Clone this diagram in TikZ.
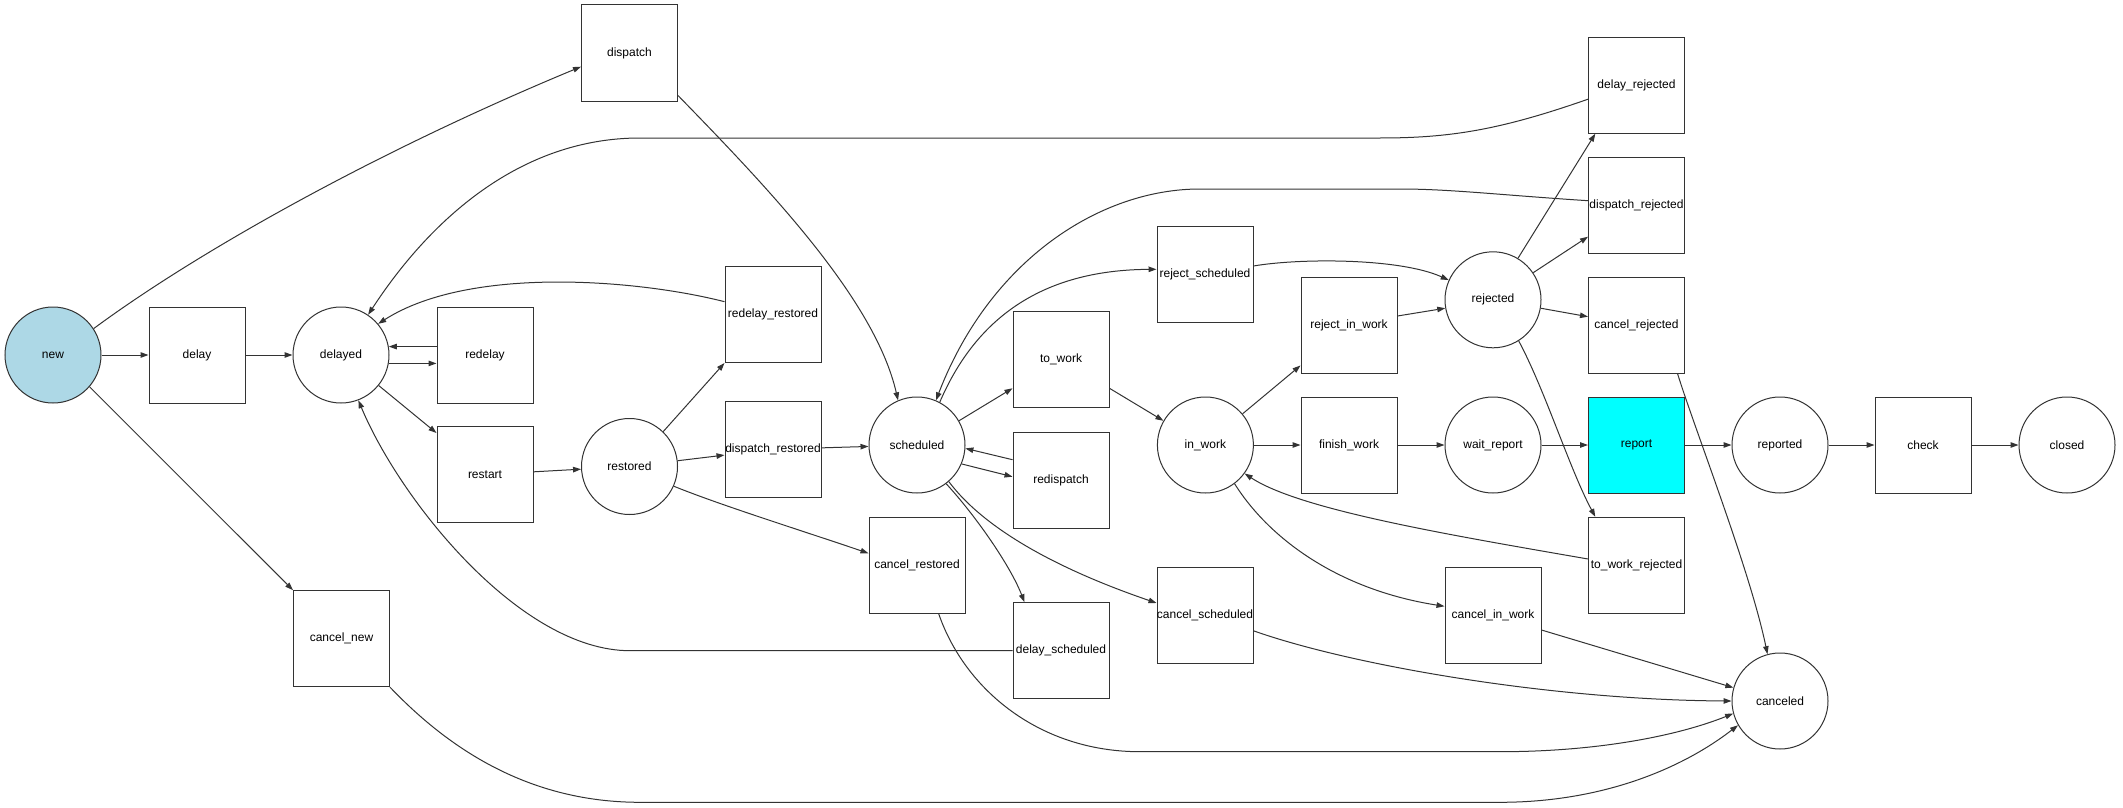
\documentclass[tikz,border=0pt]{standalone}
\usepackage{fontspec}
\setmainfont{Liberation Sans}
\usetikzlibrary{arrows.meta}
\definecolor{ln}{RGB}{51,51,51}
\definecolor{newfill}{RGB}{173,216,230}
\definecolor{reportfill}{RGB}{0,255,255}
\newcommand\zl[1]{\makebox[0pt]{#1}}
\begin{document}
\begin{tikzpicture}[x=1pt,y=-1pt,
  every node/.style={font=\fontsize{12}{14}\selectfont, inner sep=0pt},
  stnode/.style={circle, draw=ln, line width=1pt, minimum size=96pt},
  trnode/.style={rectangle, draw=ln, line width=1pt, minimum width=96pt, minimum height=96pt},
  arr/.style={draw=ln, line width=1pt, -{Triangle[length=8pt,width=5.5pt]}},
]
\useasboundingbox (0,0) rectangle (2123,808);
% states
\node[stnode, fill=newfill] (new) at (53,355) {\zl{new}};
\node[stnode] (delayed) at (341,355) {\zl{delayed}};
\node[stnode] (restored) at (629.5,466.5) {\zl{restored}};
\node[stnode] (scheduled) at (917,445) {\zl{scheduled}};
\node[stnode] (inwork) at (1205.4,445) {\zl{in\_work}};
\node[stnode] (rejected) at (1493,299.8) {\zl{rejected}};
\node[stnode] (waitreport) at (1493,445) {\zl{wait\_report}};
\node[stnode] (reported) at (1780,445) {\zl{reported}};
\node[stnode] (canceled) at (1780,701) {\zl{canceled}};
\node[stnode] (closed) at (2067,445) {\zl{closed}};
% transitions
\node[trnode] (delay) at (197,355) {\zl{delay}};
\node[trnode] (redelay) at (485,355) {\zl{redelay}};
\node[trnode] (dispatch) at (629.5,53) {\zl{dispatch}};
\node[trnode] (restart) at (485,474.5) {\zl{restart}};
\node[trnode] (cancelnew) at (341.5,638.7) {\zl{cancel\_new}};
\node[trnode] (redelayrestored) at (773,314.5) {\zl{redelay\_restored}};
\node[trnode] (dispatchrestored) at (773,449.3) {\zl{dispatch\_restored}};
\node[trnode] (cancelrestored) at (917,565.3) {\zl{cancel\_restored}};
\node[trnode] (towork) at (1061,359.5) {\zl{to\_work}};
\node[trnode] (redispatch) at (1061,480) {\zl{redispatch}};
\node[trnode] (delayscheduled) at (1061,650.7) {\zl{delay\_scheduled}};
\node[trnode] (rejectscheduled) at (1205,274.7) {\zl{reject\_scheduled}};
\node[trnode] (cancelscheduled) at (1205,615.8) {\zl{cancel\_scheduled}};
\node[trnode] (rejectinwork) at (1349,325) {\zl{reject\_in\_work}};
\node[trnode] (finishwork) at (1349,445) {\zl{finish\_work}};
\node[trnode] (cancelinwork) at (1493,615.8) {\zl{cancel\_in\_work}};
\node[trnode] (delayrejected) at (1636.5,85.2) {\zl{delay\_rejected}};
\node[trnode] (dispatchrejected) at (1636.5,205) {\zl{dispatch\_rejected}};
\node[trnode] (cancelrejected) at (1636.5,325) {\zl{cancel\_rejected}};
\node[trnode, fill=reportfill] (report) at (1636.5,445) {\zl{report}};
\node[trnode] (toworkrejected) at (1636.5,565.3) {\zl{to\_work\_rejected}};
\node[trnode] (check) at (1923,445) {\zl{check}};
% edges
\draw[arr] (new) -- (delay);
\draw[arr] (delay) -- (delayed);
\draw[arr] (new.33) .. controls (200,250) and (380,150) .. ([yshift=-13.7pt]dispatch.west);
\draw[arr] (new.-41) -- (cancelnew.north west);
\draw[arr] ([yshift=6pt]dispatch.south east) .. controls (770,190) and (875,300) .. (scheduled.113);
\draw[arr] ([yshift=-14pt]delayrejected.west) .. controls (1500,130) and (1450,138) .. (1380,138) -- (640,138) .. controls (520,138) and (430,220) .. (delayed.56);
\draw[arr] (delayed.-10) -- (delayed.-10 -| redelay.west);
\draw[arr] (delayed.10 -| redelay.west) -- (delayed.10);
\draw[arr] ([yshift=12.8pt]redelayrestored.west) .. controls (640,280) and (470,265) .. (delayed.40);
\draw[arr] (delayed.-39) -- ([yshift=-7pt]restart.north west);
\draw[arr] (restart) -- (restored);
\draw[arr] (restored.46) -- (redelayrestored.south west);
\draw[arr] (restored) -- (dispatchrestored);
\draw[arr] (dispatchrestored) -- (scheduled);
\draw[arr] (restored.-24) .. controls (720,505) and (800,530) .. ([yshift=12pt]cancelrestored.west);
\draw[arr] (delayscheduled.west) -- (630,650.7) .. controls (520,650.7) and (400,500) .. (delayed.-69);
\draw[arr] (scheduled.30) -- ([yshift=-28.8pt]towork.west);
\draw[arr] (scheduled.-23) -- ([yshift=3.3pt]redispatch.west);
\draw[arr] ([yshift=20.3pt]redispatch.west) -- (scheduled.-4);
\draw[arr] (scheduled.62) .. controls (975,320) and (1040,270) .. ([yshift=5.4pt]rejectscheduled.west);
\draw[arr] ([yshift=4.3pt]dispatchrejected.west) .. controls (1500,195) and (1450,189) .. (1400,189) -- (1200,189) .. controls (1100,189) and (990,260) .. (scheduled.67);
\draw[arr] ([yshift=8.7pt]rejectscheduled.east) .. controls (1300,258) and (1400,258) .. (rejected.156);
\draw[arr] ([yshift=-28.8pt]towork.east) -- (inwork.150);
\draw[arr] (inwork.40) -- ([yshift=8pt]rejectinwork.south west);
\draw[arr] ([yshift=9pt]rejectinwork.east) -- (rejected.190);
\draw[arr] (inwork) -- (finishwork);
\draw[arr] (finishwork) -- (waitreport);
\draw[arr] (waitreport) -- (report);
\draw[arr] (report) -- (reported);
\draw[arr] (reported) -- (check);
\draw[arr] (check) -- (closed);
\draw[arr] (rejected.59) -- ([xshift=7.3pt]delayrejected.south west);
\draw[arr] (rejected.34) -- ([yshift=-31.7pt]dispatchrejected.west);
\draw[arr] (rejected.-10) -- ([yshift=8.3pt]cancelrejected.west);
\draw[arr] (rejected.-58) .. controls (1545,390) and (1570,470) .. ([xshift=7.3pt]toworkrejected.north west);
\draw[arr] ([xshift=-7.5pt]cancelrejected.south east) .. controls (1695,430) and (1750,570) .. (canceled.105);
\draw[arr] ([yshift=6.3pt]toworkrejected.west) .. controls (1450,535) and (1300,510) .. (inwork.-36);
\draw[arr] (inwork.-53) .. controls (1270,540) and (1340,590) .. ([yshift=9.5pt]cancelinwork.west);
\draw[arr] ([yshift=-14.2pt]cancelinwork.east) -- (canceled.164);
\draw[arr] ([yshift=-15pt]cancelscheduled.east) .. controls (1350,665) and (1550,700) .. (canceled.180);
\draw[arr] ([xshift=21.7pt]cancelrestored.south) .. controls (965,690) and (1040,751.7) .. (1140,751.7) -- (1500,751.7) .. controls (1600,751.7) and (1680,735) .. (canceled.195);
\draw[arr] (cancelnew.south east) .. controls (450,750) and (530,802.3) .. (640,802.3) -- (1500,802.3) .. controls (1600,802.3) and (1680,770) .. (canceled.210);
\draw[arr] (scheduled.-49) .. controls (985,530) and (1060,570) .. ([yshift=12.8pt]cancelscheduled.west);
\draw[arr] (scheduled.-53) .. controls (975,515) and (1010,565) .. ([xshift=12pt]delayscheduled.north west);
\end{tikzpicture}
\end{document}
